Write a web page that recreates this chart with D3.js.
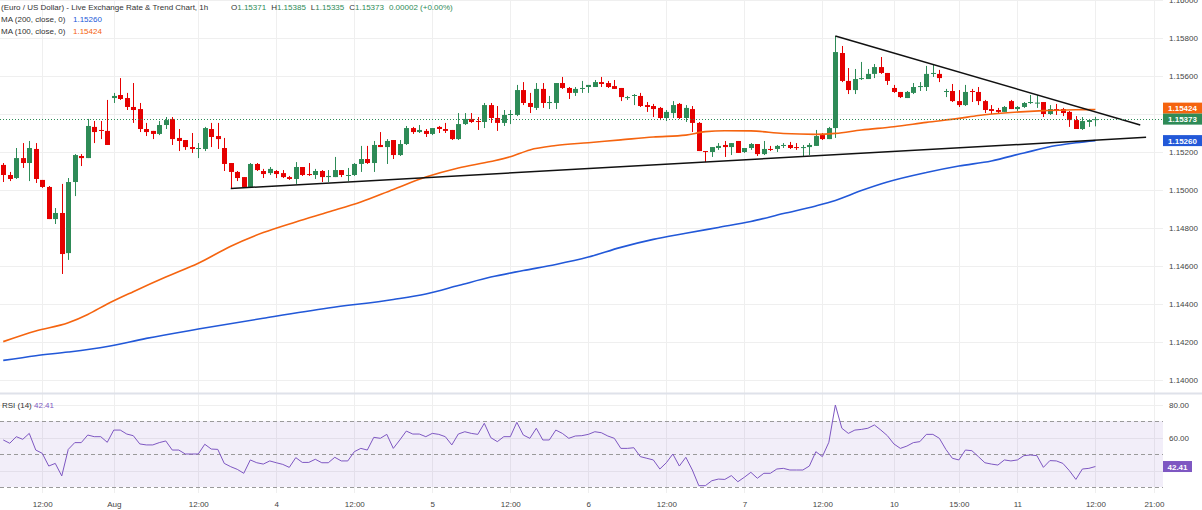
<!DOCTYPE html>
<html>
<head>
<meta charset="utf-8">
<script src="https://cdn.jsdelivr.net/npm/d3@7"></script>
<style>
  body { margin: 0; background: #fff; }
  svg { display: block; font-family: "Liberation Sans", Arial, sans-serif; }
</style>
</head>
<body>
<svg id="chart" width="1202" height="510"></svg>
<script>
// hourly EUR/USD candles
const opens = [1.15132,1.15079,1.15063,1.15168,1.15142,1.15216,1.15053,1.15016,1.14847,1.14879,
  1.14668,1.15042,1.15179,1.15168,1.15332,1.15316,1.15311,1.15484,1.15500,1.15484,
  1.15437,1.15426,1.15321,1.15311,1.15295,1.15342,1.15374,1.15274,1.15263,1.15226,
  1.15216,1.15216,1.15321,1.15284,1.15221,1.15142,1.15095,1.15068,1.15016,1.15137,
  1.15100,1.15089,1.15100,1.15089,1.15068,1.15058,1.15121,1.15084,1.15079,1.15100,
  1.15068,1.15068,1.15105,1.15074,1.15079,1.15137,1.15163,1.15142,1.15237,1.15226,
  1.15263,1.15184,1.15242,1.15326,1.15305,1.15311,1.15295,1.15332,1.15321,1.15316,
  1.15268,1.15347,1.15374,1.15363,1.15358,1.15447,1.15379,1.15353,1.15395,1.15395,
  1.15526,1.15458,1.15432,1.15532,1.15458,1.15458,1.15563,1.15537,1.15511,1.15532,
  1.15542,1.15542,1.15568,1.15563,1.15547,1.15537,1.15484,1.15495,1.15495,1.15447,
  1.15442,1.15432,1.15379,1.15405,1.15453,1.15379,1.15426,1.15353,1.15205,1.15200,
  1.15221,1.15237,1.15226,1.15258,1.15200,1.15221,1.15242,1.15189,1.15216,1.15216,
  1.15232,1.15237,1.15226,1.15221,1.15226,1.15232,1.15289,1.15268,1.15326,1.15721,
  1.15574,1.15526,1.15584,1.15584,1.15611,1.15647,1.15616,1.15537,1.15516,1.15484,
  1.15511,1.15542,1.15542,1.15611,1.15611,1.15516,1.15521,1.15468,1.15447,1.15521,
  1.15516,1.15468,1.15426,1.15421,1.15411,1.15468,1.15426,1.15437,1.15458,1.15458,
  1.15463,1.15400,1.15426,1.15426,1.15411,1.15368,1.15321,1.15358,1.15371];
const highs = [1.15142,1.15095,1.15221,1.15247,1.15258,1.15247,1.15053,1.15021,1.14905,1.15032,
  1.15063,1.15189,1.15189,1.15374,1.15363,1.15363,1.15474,1.15511,1.15589,1.15511,
  1.15563,1.15458,1.15353,1.15311,1.15363,1.15384,1.15384,1.15321,1.15263,1.15300,
  1.15247,1.15332,1.15353,1.15353,1.15274,1.15142,1.15100,1.15068,1.15142,1.15142,
  1.15111,1.15121,1.15105,1.15105,1.15074,1.15147,1.15121,1.15142,1.15111,1.15105,
  1.15105,1.15174,1.15105,1.15116,1.15142,1.15232,1.15232,1.15258,1.15305,1.15268,
  1.15263,1.15263,1.15337,1.15332,1.15342,1.15321,1.15326,1.15337,1.15353,1.15316,
  1.15405,1.15405,1.15405,1.15384,1.15458,1.15458,1.15442,1.15421,1.15421,1.15553,
  1.15568,1.15511,1.15563,1.15563,1.15495,1.15563,1.15595,1.15542,1.15542,1.15574,
  1.15553,1.15579,1.15595,1.15574,1.15579,1.15537,1.15495,1.15505,1.15511,1.15463,
  1.15453,1.15437,1.15421,1.15468,1.15458,1.15447,1.15442,1.15358,1.15205,1.15226,
  1.15247,1.15258,1.15247,1.15258,1.15221,1.15247,1.15242,1.15258,1.15232,1.15237,
  1.15247,1.15253,1.15247,1.15237,1.15247,1.15316,1.15300,1.15332,1.15811,1.15758,
  1.15642,1.15637,1.15674,1.15637,1.15663,1.15700,1.15616,1.15553,1.15516,1.15521,
  1.15563,1.15568,1.15653,1.15663,1.15632,1.15532,1.15558,1.15526,1.15553,1.15532,
  1.15542,1.15474,1.15447,1.15432,1.15442,1.15474,1.15442,1.15463,1.15500,1.15500,
  1.15463,1.15447,1.15453,1.15432,1.15416,1.15389,1.15384,1.15374,1.15385];
const lows = [1.15042,1.15047,1.15058,1.15116,1.15047,1.15037,1.15011,1.14847,1.14821,1.14558,
  1.14632,1.14968,1.15126,1.15168,1.15247,1.15268,1.15237,1.15458,1.15474,1.15421,
  1.15353,1.15305,1.15284,1.15268,1.15289,1.15321,1.15237,1.15205,1.15211,1.15195,
  1.15168,1.15205,1.15226,1.15216,1.15100,1.15005,1.15047,1.15016,1.15011,1.15100,
  1.15063,1.15079,1.15063,1.15063,1.15053,1.15032,1.15074,1.15074,1.15058,1.15042,
  1.15042,1.15068,1.15068,1.15047,1.15074,1.15095,1.15137,1.15095,1.15226,1.15137,
  1.15163,1.15179,1.15237,1.15295,1.15300,1.15279,1.15289,1.15300,1.15300,1.15263,
  1.15263,1.15342,1.15353,1.15316,1.15326,1.15353,1.15311,1.15337,1.15347,1.15389,
  1.15447,1.15405,1.15421,1.15432,1.15426,1.15426,1.15532,1.15479,1.15495,1.15511,
  1.15511,1.15542,1.15542,1.15537,1.15532,1.15468,1.15474,1.15447,1.15437,1.15411,
  1.15384,1.15368,1.15363,1.15379,1.15374,1.15358,1.15305,1.15205,1.15147,1.15174,
  1.15211,1.15174,1.15184,1.15195,1.15195,1.15211,1.15179,1.15184,1.15205,1.15200,
  1.15221,1.15216,1.15211,1.15179,1.15184,1.15232,1.15263,1.15268,1.15274,1.15568,
  1.15505,1.15505,1.15579,1.15584,1.15589,1.15611,1.15553,1.15511,1.15484,1.15484,
  1.15505,1.15521,1.15521,1.15595,1.15568,1.15489,1.15463,1.15437,1.15442,1.15463,
  1.15447,1.15405,1.15400,1.15400,1.15411,1.15426,1.15416,1.15432,1.15453,1.15432,
  1.15384,1.15395,1.15395,1.15389,1.15332,1.15321,1.15316,1.15332,1.15335];
const closes = [1.15079,1.15058,1.15168,1.15142,1.15221,1.15058,1.15016,1.14847,1.14879,1.14663,
  1.15042,1.15184,1.15168,1.15337,1.15305,1.15311,1.15237,1.15495,1.15479,1.15437,
  1.15421,1.15321,1.15305,1.15295,1.15342,1.15368,1.15268,1.15258,1.15226,1.15216,
  1.15221,1.15326,1.15279,1.15268,1.15137,1.15095,1.15063,1.15016,1.15137,1.15105,
  1.15084,1.15111,1.15084,1.15068,1.15058,1.15121,1.15079,1.15079,1.15100,1.15068,
  1.15074,1.15105,1.15079,1.15079,1.15137,1.15163,1.15142,1.15237,1.15226,1.15258,
  1.15184,1.15242,1.15326,1.15305,1.15316,1.15295,1.15326,1.15321,1.15311,1.15268,
  1.15347,1.15374,1.15358,1.15358,1.15447,1.15379,1.15353,1.15395,1.15400,1.15526,
  1.15458,1.15437,1.15532,1.15458,1.15463,1.15563,1.15537,1.15511,1.15532,1.15537,
  1.15553,1.15568,1.15558,1.15542,1.15532,1.15489,1.15489,1.15500,1.15442,1.15437,
  1.15426,1.15379,1.15411,1.15447,1.15379,1.15432,1.15353,1.15205,1.15200,1.15226,
  1.15232,1.15226,1.15247,1.15195,1.15221,1.15242,1.15189,1.15216,1.15211,1.15232,
  1.15237,1.15221,1.15221,1.15226,1.15237,1.15284,1.15268,1.15326,1.15726,1.15574,
  1.15526,1.15584,1.15589,1.15611,1.15647,1.15616,1.15574,1.15516,1.15489,1.15516,
  1.15542,1.15547,1.15611,1.15616,1.15589,1.15521,1.15468,1.15447,1.15516,1.15516,
  1.15468,1.15421,1.15416,1.15411,1.15437,1.15426,1.15437,1.15458,1.15463,1.15460,
  1.15400,1.15426,1.15421,1.15405,1.15368,1.15321,1.15363,1.15368,1.15373];

// moving averages, sampled along the curves (candle index, value)
const ma100Idx = [0,5,10,13,16,20,25,30,35,40,45,50,55,60,65,70,75,78,81,85,90,95,100,105,108,111,115,120,125,128,132,137,142,147,150,155,160,165,168];
const ma100Val = [1.14202,1.14258,1.14301,1.14345,1.14400,1.14465,1.14542,1.14614,1.14704,1.14776,1.14832,1.14884,1.14937,1.15003,1.15068,1.15116,1.15150,1.15175,1.15211,1.15234,1.15249,1.15264,1.15279,1.15289,1.15307,1.15312,1.15311,1.15297,1.15293,1.15298,1.15316,1.15333,1.15356,1.15377,1.15392,1.15408,1.15418,1.15422,1.15424];
const ma200Idx = [0,5,10,16,22,30,40,50,60,65,70,75,80,85,90,95,100,105,110,115,120,125,128,132,136,142,147,152,157,162,165,168];
const ma200Val = [1.14103,1.14128,1.14147,1.14176,1.14219,1.14268,1.14325,1.14379,1.14424,1.14453,1.14497,1.14542,1.14576,1.14608,1.14647,1.14698,1.14740,1.14772,1.14803,1.14834,1.14876,1.14916,1.14945,1.14997,1.15042,1.15092,1.15126,1.15153,1.15195,1.15234,1.15249,1.15260];

// RSI(14)
const rsiValues = [58.5,56.5,60.5,58.9,62.5,52.4,50.4,42.7,44.3,36.7,
  52.8,56.9,56.9,61.5,60.5,60.5,57.1,64.5,64.5,62.1,
  61.1,56.1,55.5,55.5,56.9,57.9,52.4,52.4,50.0,50.0,
  50.0,55.9,53.0,52.8,44.3,42.3,40.7,38.3,46.4,44.7,
  43.9,45.8,44.7,43.7,41.9,47.8,44.9,44.9,46.8,44.7,
  44.7,48.0,45.8,45.8,51.4,53.4,52.4,60.1,59.5,61.9,
  53.4,58.5,63.9,62.1,62.1,60.5,62.5,61.9,60.5,55.5,
  62.1,63.5,62.5,61.9,68.6,59.9,57.5,60.5,60.5,69.2,
  61.5,59.5,65.6,58.5,58.5,64.5,62.5,59.5,60.9,61.1,
  61.9,63.5,62.9,60.9,59.5,53.4,53.4,53.8,48.4,47.4,
  46.4,40.9,44.7,50.0,42.7,48.0,40.3,30.8,30.8,33.8,
  34.8,34.6,36.9,33.2,35.9,38.9,35.3,38.3,38.3,40.9,
  41.3,40.3,40.3,40.3,42.7,51.4,48.4,57.1,79.7,65.6,
  62.5,64.5,64.9,65.6,67.6,64.5,61.1,56.1,53.4,54.8,
  56.9,57.5,61.9,61.9,59.5,52.8,47.4,46.4,52.4,52.0,
  48.4,44.7,43.9,43.3,46.4,45.8,46.4,49.0,49.4,49.0,
  41.9,46.0,45.8,44.3,39.9,34.6,40.9,41.3,42.41];

// trend lines drawn on the chart (candle index, price)
const supportLine = [[35, 1.15008], [175.8, 1.15277]];
const resistanceLine = [[128, 1.15811], [174.9, 1.15342]];

const tickIdx = [6,17,30,42,54,66,78,90,102,114,126,137,147,156,168,177];
const tickLabels = ["12:00","Aug","12:00","4","12:00","5","12:00","6","12:00","7","12:00","10","15:00","11","12:00","21:00"];
const priceTicks = [1.140,1.142,1.144,1.146,1.148,1.150,1.152,1.154,1.156,1.158,1.160];
const rsiTicks = [40,60,80];
const rsiLevels = [70,50,30];

const up = "#2e8b57", down = "#e60000";
const orange = "#f5640f", blue = "#2258d8", purple = "#7e57c2";
const plotW = 1163, mainH = 393;

const svg = d3.select("#chart");
const x = d3.scaleLinear().domain([-0.5, 178.4]).range([0, plotW]);
const y = d3.scaleLinear().domain([1.14, 1.16]).range([380, 0]);
const rsiY = d3.scaleLinear().domain([30, 70]).range([487, 421]);

svg.append("rect").attr("width", 1202).attr("height", 510).attr("fill", "#fff");

// grid
const grid = svg.append("g").attr("stroke", "#efefef").attr("stroke-width", 1);
grid.selectAll(".vg").data(tickIdx).join("line")
  .attr("x1", d => Math.round(x(d)) + 0.5).attr("x2", d => Math.round(x(d)) + 0.5)
  .attr("y1", 0).attr("y2", 493);
grid.selectAll(".hg").data(priceTicks).join("line")
  .attr("x1", 0).attr("x2", plotW)
  .attr("y1", d => Math.round(y(d)) + 0.5).attr("y2", d => Math.round(y(d)) + 0.5);
grid.selectAll(".rg").data(rsiTicks).join("line")
  .attr("x1", 0).attr("x2", plotW)
  .attr("y1", d => Math.round(rsiY(d)) + 0.5).attr("y2", d => Math.round(rsiY(d)) + 0.5);

// panel separator
svg.append("line").attr("x1", 0).attr("x2", 1202).attr("y1", 393.5).attr("y2", 393.5)
  .attr("stroke", "#dfe2ea").attr("stroke-width", 2);

// main panel
svg.append("clipPath").attr("id", "clipMain")
  .append("rect").attr("width", plotW).attr("height", mainH);
const main = svg.append("g").attr("clip-path", "url(#clipMain)");

const candles = opens.map((o, i) => ({ i, o, h: highs[i], l: lows[i], c: closes[i] }));
const cg = main.append("g");
cg.selectAll("line").data(candles).join("line")
  .attr("x1", d => Math.round(x(d.i)) + 0.5).attr("x2", d => Math.round(x(d.i)) + 0.5)
  .attr("y1", d => y(d.h)).attr("y2", d => y(d.l))
  .attr("stroke", d => d.c >= d.o ? up : down).attr("stroke-width", 1);
cg.selectAll("rect").data(candles).join("rect")
  .attr("x", d => Math.round(x(d.i)) + 0.5 - 2.5).attr("width", 5)
  .attr("y", d => y(Math.max(d.o, d.c)))
  .attr("height", d => Math.max(1, Math.abs(y(d.o) - y(d.c))))
  .attr("fill", d => d.c >= d.o ? up : down);

const maLine = d3.line().x(d => x(d[0])).y(d => y(d[1])).curve(d3.curveMonotoneX);
main.append("path").datum(d3.zip(ma100Idx, ma100Val)).attr("d", maLine)
  .attr("fill", "none").attr("stroke", orange).attr("stroke-width", 1.6);
main.append("path").datum(d3.zip(ma200Idx, ma200Val)).attr("d", maLine)
  .attr("fill", "none").attr("stroke", blue).attr("stroke-width", 1.6);

const trend = d3.line().x(d => x(d[0])).y(d => y(d[1]));
[supportLine, resistanceLine].forEach(l => {
  main.append("path").datum(l).attr("d", trend)
    .attr("fill", "none").attr("stroke", "#111").attr("stroke-width", 1.5);
});

// last price dotted line
const last = closes[closes.length - 1];
svg.append("line").attr("x1", 0).attr("x2", plotW)
  .attr("y1", Math.round(y(last)) + 0.5).attr("y2", Math.round(y(last)) + 0.5)
  .attr("stroke", up).attr("stroke-dasharray", "1,2");

// RSI panel
svg.append("rect").attr("x", 0).attr("width", plotW)
  .attr("y", rsiY(70)).attr("height", rsiY(30) - rsiY(70))
  .attr("fill", purple).attr("fill-opacity", 0.1);
svg.selectAll(".lvl").data(rsiLevels).join("line")
  .attr("x1", 0).attr("x2", plotW)
  .attr("y1", d => Math.round(rsiY(d)) + 0.5).attr("y2", d => Math.round(rsiY(d)) + 0.5)
  .attr("stroke", "#9a9a9a").attr("stroke-dasharray", "4,3");
svg.append("path").datum(rsiValues)
  .attr("d", d3.line().x((d, i) => x(i)).y(d => rsiY(d)))
  .attr("fill", "none").attr("stroke", purple).attr("stroke-width", 1);

// scale tags: last price, MAs, RSI
const lastMa100 = ma100Val[ma100Val.length - 1];
const lastMa200 = ma200Val[ma200Val.length - 1];
const lastRsi = rsiValues[rsiValues.length - 1];
const gy = y(last);
const tags = [
  { y: Math.min(y(lastMa100), gy - 11), color: orange, text: d3.format(".5f")(lastMa100), w: 39 },
  { y: gy, color: up, text: d3.format(".5f")(last), w: 39 },
  { y: y(lastMa200), color: blue, text: d3.format(".5f")(lastMa200), w: 39 },
  { y: rsiY(lastRsi), color: purple, text: d3.format(".2f")(lastRsi), w: 29 }
];
const hidden = v => tags.some(t => Math.abs(t.y - v) < 8);

// axes
const axisFont = g => g.attr("font-size", 8).attr("font-family", "Liberation Sans, Arial, sans-serif")
  .call(s => s.select(".domain").remove())
  .call(s => s.selectAll("text").attr("fill", "#444"));
svg.append("g").attr("transform", `translate(${plotW},0)`)
  .call(d3.axisRight(y).tickValues(priceTicks.filter(p => !hidden(y(p))))
    .tickFormat(d3.format(".5f")).tickSize(0).tickPadding(6))
  .call(axisFont);
svg.append("g").attr("transform", `translate(${plotW},0)`)
  .call(d3.axisRight(rsiY).tickValues(rsiTicks.filter(r => !hidden(rsiY(r))))
    .tickFormat(d3.format(".2f")).tickSize(0).tickPadding(6))
  .call(axisFont);
svg.append("g").attr("transform", "translate(0,496)")
  .call(d3.axisBottom(x).tickValues(tickIdx).tickFormat((d, i) => tickLabels[i]).tickSize(0).tickPadding(5))
  .call(axisFont);

tags.forEach(t => {
  svg.append("rect").attr("x", plotW).attr("y", t.y - 5.5).attr("width", t.w).attr("height", 11).attr("fill", t.color);
  svg.append("text").attr("x", plotW + t.w / 2).attr("y", t.y + 3).attr("text-anchor", "middle")
    .attr("font-size", 8).attr("font-weight", "bold").attr("fill", "#fff").text(t.text);
});

// legend
const legend = svg.append("g").attr("font-size", 8).attr("fill", "#333");
legend.append("text").attr("x", 1).attr("y", 9.5)
  .text("(Euro / US Dollar) - Live Exchange Rate & Trend Chart, 1h");
const n = opens.length - 1;
const ohlc = [["O", opens[n]], ["H", highs[n]], ["L", lows[n]], ["C", closes[n]]];
let lx = 231;
ohlc.forEach(([k, v]) => {
  const t = legend.append("text").attr("x", lx).attr("y", 9.5);
  t.append("tspan").text(k);
  t.append("tspan").attr("fill", up).text(d3.format(".5f")(v));
  lx += t.node().getComputedTextLength() + 5;
});
legend.append("text").attr("x", lx).attr("y", 9.5).attr("fill", up)
  .text(d3.format(".5f")(closes[n] - opens[n]) + " (+0.00%)");
legend.append("text").attr("x", 1).attr("y", 21.5).text("MA (200, close, 0)");
legend.append("text").attr("x", 73).attr("y", 21.5).attr("fill", blue).text(d3.format(".5f")(lastMa200));
legend.append("text").attr("x", 1).attr("y", 33.5).text("MA (100, close, 0)");
legend.append("text").attr("x", 73).attr("y", 33.5).attr("fill", orange).text(d3.format(".5f")(lastMa100));
legend.append("text").attr("x", 2).attr("y", 408).text("RSI (14)");
legend.append("text").attr("x", 34).attr("y", 408).attr("fill", purple).text(d3.format(".2f")(lastRsi));
</script>
</body>
</html>
